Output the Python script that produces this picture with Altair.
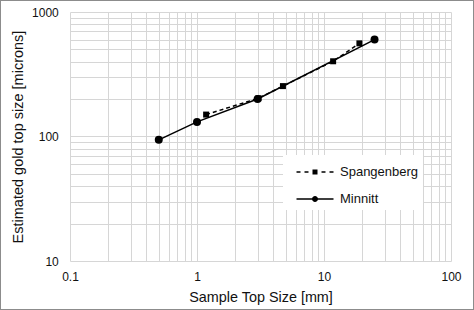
import altair as alt
import pandas as pd

# ---- data ----
minnitt_x = [0.5, 1, 3, 25]
minnitt_y = [94, 131, 200, 600]
spang_x = [1.18, 3.05, 4.75, 11.8, 19]
spang_y = [150, 203, 254, 402, 560]
series_names = ["Spangenberg", "Minnitt"]

x_ticks = [m * 10 ** e for e in (-1, 0, 1) for m in range(1, 10)] + [100]
y_ticks = [m * 10 ** e for e in (1, 2) for m in range(1, 10)] + [1000]
x_labels = [0.1, 1, 10, 100]
y_labels = [10, 100, 1000]

df = pd.DataFrame(
    {
        "x": spang_x + minnitt_x,
        "y": spang_y + minnitt_y,
        "series": ["Spangenberg"] * len(spang_x) + ["Minnitt"] * len(minnitt_x),
    }
)

FONT = "Liberation Sans"
TXT = "#111111"
GRID = "#d6d6d6"

xs = alt.Scale(type="log", domain=[0.1, 100], nice=False)
ys = alt.Scale(type="log", domain=[10, 1000], nice=False)

x_axis = alt.Axis(
    values=x_ticks, labelExpr=f"indexof({x_labels}, datum.value) >= 0 ? '' + datum.value : ''",
    grid=True, gridColor=GRID, gridWidth=1, ticks=False, domain=False,
    labelOverlap=False, labelFlush=False, labelPadding=10, labelFontSize=12,
    labelColor=TXT, labelFont=FONT, title="Sample Top Size [mm]",
    titleFont=FONT, titleFontSize=14.4, titleFontWeight="normal", titleColor=TXT,
    titleX=190.5, titleY=36, titleBaseline="middle",
)
y_axis = alt.Axis(
    values=y_ticks, labelExpr=f"indexof({y_labels}, datum.value) >= 0 ? '' + datum.value : ''",
    grid=True, gridColor=GRID, gridWidth=1, ticks=False, domain=False,
    labelOverlap=False, labelFlush=False, labelPadding=11.7, labelFontSize=12,
    labelColor=TXT, labelFont=FONT, title="Estimated gold top size [microns]",
    titleFont=FONT, titleFontSize=14.5, titleFontWeight="normal", titleColor=TXT,
    titleX=-52, titleY=124.5, titleBaseline="middle", titleAngle=270,
)

base = alt.Chart(df)
X = alt.X("x:Q", scale=xs, axis=x_axis)
Y = alt.Y("y:Q", scale=ys, axis=y_axis)

spang_line = base.transform_filter(alt.datum.series == "Spangenberg").mark_line(
    color="black", strokeWidth=1.5, strokeDash=[4, 3]
).encode(x=X, y=Y)
minn_line = base.transform_filter(alt.datum.series == "Minnitt").mark_line(
    color="black", strokeWidth=1.5
).encode(x=X, y=Y)
spang_pts = base.transform_filter(alt.datum.series == "Spangenberg").mark_point(
    shape="square", filled=True, color="black", size=36, opacity=1
).encode(x=X, y=Y)
minn_pts = base.transform_filter(alt.datum.series == "Minnitt").mark_point(
    shape="circle", filled=True, color="black", size=64, opacity=1
).encode(x=X, y=Y)

# legend symbols: line + marker drawn as filled custom SVG paths
T = 0.058  # half line thickness (symbol units)


def bar(a, b):
    return f"M{a},{-T}H{b}V{T}H{a}Z"


spang_sym = (bar(-0.038, 0.269) + bar(0.577, 0.885)
             + "M1.192,-0.192H1.577V0.192H1.192Z"
             + bar(1.885, 2.192) + bar(2.5, 2.808))
minn_sym = (bar(-0.038, 2.808)
            + "M1.155,0A0.23,0.23 0 1,1 1.615,0A0.23,0.23 0 1,1 1.155,0Z")

legend_layer = base.transform_filter("false").mark_point(
    filled=True, color="black", strokeWidth=0, size=676, opacity=1
).encode(
    shape=alt.Shape(
        "series:N",
        scale=alt.Scale(domain=series_names, range=[spang_sym, minn_sym]),
        legend=alt.Legend(
            orient="none", legendX=213, legendY=143, title=None,
            fillColor="white", padding=4, rowPadding=7,
            symbolSize=676, symbolOffset=-3, labelOffset=30,
            symbolStrokeWidth=0, symbolFillColor="black",
            symbolOpacity=1, labelFont=FONT, labelFontSize=13, labelColor=TXT,
        ),
    )
)

chart = (
    alt.layer(spang_line, minn_line, spang_pts, minn_pts, legend_layer)
    .properties(
        width=381, height=249, autosize="none",
        padding={"left": 70, "top": 12, "right": 23, "bottom": 49},
        background="white",
    )
    .configure_view(stroke=None)
)

chart.save("out.html", embed_options={"renderer": "svg", "actions": False})

# thin grey frame around the whole picture, as in the reference
with open("out.html", "r", encoding="utf-8") as f:
    html = f.read()
frame = ('<div style="position:fixed;left:0;top:0;width:474px;height:310px;'
         'box-sizing:border-box;border:1px solid #8c8c8c;pointer-events:none;"></div>')
html = html.replace("</body>", frame + "\n</body>")
with open("out.html", "w", encoding="utf-8") as f:
    f.write(html)
